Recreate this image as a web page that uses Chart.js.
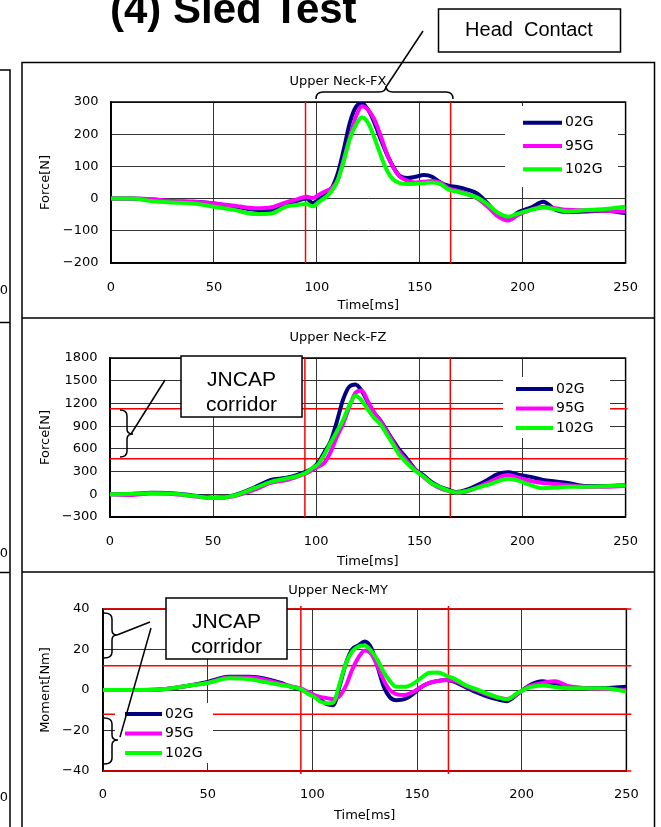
<!DOCTYPE html>
<html>
<head>
<meta charset="utf-8">
<script src="https://cdn.jsdelivr.net/npm/chart.js@4.4.0/dist/chart.umd.min.js"></script>
<style>
  body { margin: 0; background: #fff; }
  #page { position: relative; width: 661px; height: 827px; overflow: hidden; background: #fff; }
  canvas { position: absolute; left: 22px; }
  svg { position: absolute; left: 0; top: 0; }
</style>
</head>
<body>
<div id="page">
  <canvas id="fx" width="633" height="256" style="top:62px"></canvas>
  <canvas id="fz" width="633" height="254" style="top:318px"></canvas>
  <canvas id="my" width="633" height="255" style="top:572px"></canvas>
  <svg width="661" height="827">
    <g fill="none" stroke="#000" stroke-width="1.5">
      <path d="M22 827 V62.5 H654.5 V827" />
      <path d="M22 318 H654.5 M22 572 H654.5" />
      <path d="M0 70 H10 V827 M0 322.5 H10 M0 572.5 H10" />
      <rect x="438.5" y="9" width="182" height="43" fill="#fff" />
      <path d="M423 31 L386 87" />
      <path d="M316 99 Q316 92 323 92 L379 92 Q386 92 386 86 Q386 92 393 92 L446 92 Q453 92 453 99" />
      <rect x="181" y="356" width="121" height="61" fill="#fff" />
      <path d="M165 380 L131 434" />
      <path d="M120 410 Q127 410 127 416 L127 429 Q127 434 133 434 Q127 434 127 439 L127 451 Q127 457 120 457" />
      <rect x="166" y="598" width="121" height="61" fill="#fff" />
      <path d="M150 622 L117 635 M151 628 L120 737" />
      <path d="M104 613 Q112 613 112 619 L112 630 Q112 635 117 635 Q112 635 112 640 L112 652 Q112 658 104 658" />
      <path d="M104 718 Q112 718 112 724 L112 735 Q112 740 118 740 Q112 740 112 745 L112 758 Q112 764 104 764" />
    </g>
    <g font-family="'Liberation Sans', Arial, sans-serif" fill="#000">
      <text x="110" y="23" font-size="42" font-weight="bold">(4) Sled Test</text>
      <text x="529" y="31" font-size="20" text-anchor="middle" dominant-baseline="middle">Head&#160;&#160;Contact</text>
      <text x="241.5" y="380" font-size="21" text-anchor="middle" dominant-baseline="middle">JNCAP</text>
      <text x="241.5" y="405" font-size="21" text-anchor="middle" dominant-baseline="middle">corridor</text>
      <text x="226.5" y="622" font-size="21" text-anchor="middle" dominant-baseline="middle">JNCAP</text>
      <text x="226.5" y="647" font-size="21" text-anchor="middle" dominant-baseline="middle">corridor</text>
    </g>
    <g font-family="'DejaVu Sans', sans-serif" font-size="13" fill="#000" text-anchor="end" dominant-baseline="middle">
      <text x="8" y="290">250</text>
      <text x="8" y="553">250</text>
      <text x="8" y="797">250</text>
    </g>
  </svg>
</div>
<script>
const timeMs = [0, 10, 20, 30, 40, 50, 60, 70, 78, 85, 90, 95, 98, 101, 104, 107, 110, 113, 116, 119, 122, 125, 128, 131, 134, 137, 140, 144, 148, 152, 156, 160, 164, 168, 173, 178, 183, 188, 193, 198, 204, 210, 216, 222, 230, 240, 250]
const timeTicks = [0, 50, 100, 150, 200, 250]

const seriesNames = ['02G', '95G', '102G']
const seriesColors = ['#000080', '#ff00ff', '#00ff00']

// Upper Neck-FX [N]
const fx02 = [0, 0, -3, -8, -10, -15, -25, -35, -36, -20, -8, 0, -14, -2, 15, 30, 75, 150, 235, 285, 296, 275, 235, 185, 138, 100, 72, 64, 68, 73, 68, 50, 40, 36, 28, 15, -15, -50, -62, -42, -28, -10, -35, -42, -40, -38, -45]
const fx95 = [0, 0, -2, -8, -10, -15, -22, -30, -27, -12, -3, 6, 2, 12, 22, 32, 55, 120, 190, 255, 287, 275, 245, 195, 140, 98, 70, 55, 50, 52, 55, 50, 32, 25, 15, 0, -25, -55, -68, -50, -35, -25, -30, -35, -36, -38, -40]
const fx102 = [0, 0, -8, -12, -15, -25, -35, -48, -46, -25, -20, -17, -24, -10, 3, 22, 55, 115, 185, 230, 253, 234, 188, 135, 88, 60, 49, 45, 46, 48, 50, 45, 28, 22, 13, 3, -18, -44, -56, -46, -35, -28, -33, -40, -36, -32, -25]
const fxTicks = [-200, -100, 0, 100, 200, 300]

// Upper Neck-FZ [N]
const fz02 = [0, 5, 20, 15, -15, -45, -15, 90, 190, 215, 250, 300, 340, 420, 560, 700, 960, 1250, 1420, 1450, 1370, 1220, 1080, 980, 850, 720, 600, 470, 330, 250, 160, 100, 60, 30, 60, 120, 190, 265, 290, 260, 230, 190, 170, 150, 110, 110, 120]
const fz95 = [0, -10, 10, 5, -25, -50, -25, 60, 150, 185, 225, 275, 320, 365, 420, 560, 760, 930, 1150, 1340, 1370, 1230, 1080, 970, 840, 700, 570, 440, 320, 230, 140, 80, 45, 25, 40, 90, 150, 215, 255, 220, 175, 150, 135, 120, 100, 100, 110]
const fz102 = [0, 5, 15, 10, -20, -50, -20, 80, 165, 205, 235, 285, 345, 400, 530, 680, 830, 980, 1170, 1300, 1240, 1120, 1010, 930, 800, 670, 530, 410, 310, 235, 145, 95, 50, 22, 45, 85, 125, 170, 205, 180, 120, 80, 90, 100, 100, 105, 120]
const fzTicks = [-300, 0, 300, 600, 900, 1200, 1500, 1800]
const fzCorridor = [470, 1130]

// Upper Neck-MY [Nm]
const my02 = [0, 0, 0, 0.5, 2, 4, 6.5, 6.5, 5.5, 3.5, 1.5, 0, -1.5, -3, -5, -7, -7.5, 2, 13, 20, 22, 24, 21, 12, 2, -3.5, -5, -4.5, -2, 1.5, 3.5, 4.5, 5, 4, 1.5, -1, -3, -4.5, -5.5, -2, 2.5, 4.3, 3, 1.5, 1, 1, 1.6]
const my95 = [0, 0, 0, 0.5, 2, 3.5, 6.2, 6.2, 5, 3, 1.8, 0.5, -1, -2.5, -3.5, -4, -4.5, -3, 2, 10, 16, 19.5, 18, 12, 5, 0, -2, -2.5, -1, 1.5, 3.5, 4.5, 5, 4.5, 2, 0, -2, -3.5, -4.5, -2, 2, 3.5, 4.3, 2, 1, 0.5, 0]
const my102 = [0, 0, 0, 0.5, 2, 3.5, 5.8, 5.3, 3.8, 2.5, 1.6, 0.2, -2, -3.5, -5.8, -6.6, -6.2, 3, 13, 19, 21.5, 22, 19.5, 15, 9, 4.5, 1.6, 1.6, 3, 6, 8.5, 8.7, 7, 5.5, 2.5, 0.5, -1.5, -3.5, -4.6, -1.5, 1.4, 2.2, 1.5, 0.9, 0.9, 0.9, -0.8]
const myTicks = [-40, -20, 0, 20, 40]
const myCorridor = [-40, -12, 12, 40]

const headContactMs = [94.5, 165]

const FONT = "'DejaVu Sans', sans-serif"

function marks (o) {
  return {
    id: 'marks',
    beforeDatasetsDraw (chart) {
      const { ctx, chartArea: a, scales: { x, y } } = chart
      ctx.save()
      ctx.lineWidth = 1.5
      ctx.strokeStyle = '#000'
      ctx.strokeRect(a.left, a.top, a.width, a.height)
      ctx.strokeStyle = '#ff0000'
      for (const v of o.corridor) {
        const py = y.getPixelForValue(v)
        ctx.beginPath()
        ctx.moveTo(a.left, py)
        ctx.lineTo(a.right + o.over, py)
        ctx.stroke()
      }
      for (const t of headContactMs) {
        const px = x.getPixelForValue(t)
        ctx.beginPath()
        ctx.moveTo(px, a.top - o.vOver)
        ctx.lineTo(px, a.bottom + o.vOver)
        ctx.stroke()
      }
      const b = o.legend
      ctx.fillStyle = '#fff'
      ctx.fillRect(a.left + b.left, a.top + b.top, b.width, b.height)
      ctx.restore()
    },
    afterDatasetsDraw (chart) {
      const { ctx, chartArea: a } = chart
      const b = o.legend
      ctx.save()
      ctx.font = '14px ' + FONT
      ctx.textBaseline = 'middle'
      chart.data.datasets.forEach((ds, i) => {
        const py = a.top + b.row + i * b.dy
        const px = a.left + b.line
        ctx.strokeStyle = ds.borderColor
        ctx.lineWidth = 4
        ctx.beginPath()
        ctx.moveTo(px, py)
        ctx.lineTo(px + b.len, py)
        ctx.stroke()
        ctx.fillStyle = '#000'
        ctx.fillText(ds.label, px + b.len + 3, py)
      })
      ctx.restore()
    }
  }
}

function panel (id, title, yTitle, yTicks, values, o) {
  const font = { family: FONT, size: 13 }
  return new Chart(document.getElementById(id), {
    type: 'line',
    data: {
      datasets: values.map((v, i) => ({
        label: seriesNames[i],
        data: timeMs.map((t, j) => ({ x: t, y: v[j] })),
        borderColor: seriesColors[i],
        borderWidth: 4,
        pointRadius: 0,
        cubicInterpolationMode: 'monotone',
        order: 3 - i
      }))
    },
    options: {
      responsive: false,
      animation: false,
      events: [],
      layout: { padding: { left: 14, right: 15, top: 0, bottom: 0 } },
      plugins: {
        legend: { display: false },
        tooltip: { enabled: false },
        title: {
          display: true,
          text: title,
          color: '#000',
          font: { family: FONT, size: 13, weight: 'normal' },
          padding: { top: o.titleTop, bottom: o.titleBottom }
        }
      },
      scales: {
        x: {
          type: 'linear',
          min: timeTicks[0],
          max: timeTicks[timeTicks.length - 1],
          afterBuildTicks: s => { s.ticks = timeTicks.map(v => ({ value: v })) },
          afterFit: s => { s.height = o.xHeight },
          grid: { color: '#333', drawTicks: false },
          border: { color: '#000', width: 1.5 },
          ticks: { color: '#000', font, padding: o.xPad, maxRotation: 0 },
          title: { display: true, text: 'Time[ms]', color: '#000', font, padding: { top: 0, bottom: o.xTitle } }
        },
        y: {
          min: yTicks[0],
          max: yTicks[yTicks.length - 1],
          afterBuildTicks: s => { s.ticks = yTicks.map(v => ({ value: v })) },
          afterFit: s => { s.width = o.yWidth },
          grid: { color: '#333', drawTicks: false },
          border: { color: '#000', width: 1.5 },
          ticks: { color: '#000', font, padding: o.yPad, callback: v => v < 0 ? '\u2212' + (-v) : String(v) },
          title: { display: true, text: yTitle, color: '#000', font, padding: { top: 2.2, bottom: 0 } }
        }
      }
    },
    plugins: [marks(o)]
  })
}

panel('fx', 'Upper Neck-FX', 'Force[N]', fxTicks, [fx02, fx95, fx102], {
  titleTop: 12.2, titleBottom: 12.2, xHeight: 55, xPad: 17, xTitle: 4.2, yWidth: 75, yPad: 12.5,
  corridor: [], over: 0, vOver: 0,
  legend: { left: 394, top: 4, width: 113, height: 81, row: 20.7, dy: 23.3, line: 412, len: 39 }
})

panel('fz', 'Upper Neck-FZ', 'Force[N]', fzTicks, [fz02, fz95, fz102], {
  titleTop: 12.2, titleBottom: 12.2, xHeight: 55, xPad: 17, xTitle: 2.2, yWidth: 74, yPad: 12.5,
  corridor: fzCorridor, over: 2, vOver: 0,
  legend: { left: 393, top: 19, width: 107, height: 61, row: 31, dy: 19.5, line: 406, len: 37 }
})

panel('my', 'Upper Neck-MY', 'Moment[Nm]', myTicks, [my02, my95, my102], {
  titleTop: 11.2, titleBottom: 10.2, xHeight: 56, xPad: 16.2, xTitle: 3.2, yWidth: 67, yPad: 13.5,
  corridor: myCorridor, over: 5, vOver: 3,
  legend: { left: 12, top: 94, width: 98, height: 60, row: 105, dy: 19.5, line: 22, len: 37 }
})
</script>
</body>
</html>
